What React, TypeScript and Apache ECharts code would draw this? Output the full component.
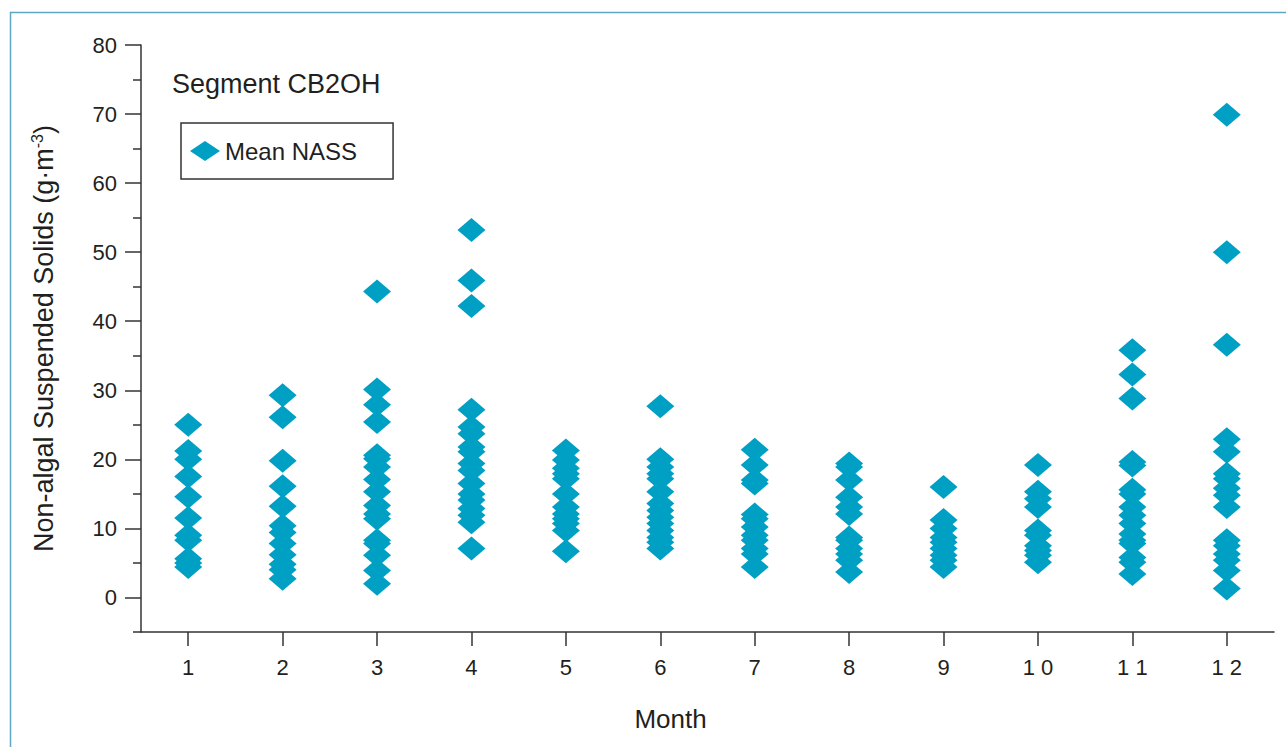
import React, { useEffect, useRef } from "react";
import * as echarts from "echarts";

const monthLabels = ["1", "2", "3", "4", "5", "6", "7", "8", "9", "1 0", "1 1", "1 2"];

const m1 = [25.0, 21.2, 20.0, 17.5, 14.6, 11.5, 9.0, 8.3, 5.6, 5.0, 4.4];
const m2 = [29.3, 26.1, 19.8, 16.1, 13.2, 10.4, 9.4, 7.8, 6.2, 4.8, 4.0, 2.7];
const m3 = [44.3, 30.1, 27.9, 25.4, 20.6, 20.1, 18.9, 17.1, 15.3, 13.3, 12.1, 11.4, 8.3, 7.8, 6.1, 3.9, 2.0];
const m4 = [53.2, 45.9, 42.2, 27.2, 24.7, 23.7, 21.8, 21.1, 19.4, 18.4, 16.5, 15.0, 14.1, 12.9, 11.9, 10.9, 7.1];
const m5 = [21.3, 19.9, 18.7, 17.9, 17.2, 15.0, 13.1, 12.1, 11.4, 10.7, 9.7, 6.7];
const m6 = [27.7, 20.0, 18.9, 17.9, 17.2, 15.3, 13.6, 12.6, 11.6, 10.7, 9.7, 8.7, 8.0, 7.1];
const m7 = [21.4, 19.2, 17.0, 16.5, 12.0, 11.4, 10.2, 9.0, 8.3, 7.1, 6.3, 4.4];
const m8 = [19.4, 18.9, 17.0, 14.5, 13.1, 12.1, 8.7, 8.3, 7.1, 6.3, 5.4, 3.7];
const m9 = [16.0, 11.2, 10.0, 8.7, 8.0, 7.1, 6.1, 5.4, 4.4];
const m10 = [19.2, 15.3, 14.3, 13.1, 9.7, 9.0, 7.5, 6.8, 6.1, 5.1];
const m11 = [35.8, 32.3, 28.8, 19.6, 19.1, 15.6, 15.0, 13.1, 11.9, 10.7, 9.2, 8.3, 7.8, 5.8, 5.1, 3.4];
const m12 = [69.9, 50.0, 36.6, 22.9, 21.1, 17.9, 17.2, 15.8, 14.8, 13.1, 8.3, 7.5, 6.3, 5.4, 3.9, 1.3];

const monthValues = [m1, m2, m3, m4, m5, m6, m7, m8, m9, m10, m11, m12];

const majorTicks = [0, 10, 20, 30, 40, 50, 60, 70, 80];
const minorTicks = [-5, 5, 15, 25, 35, 45, 55, 65, 75];

const seriesName = "Mean NASS";
const titleText = "Segment CB2OH";
const xName = "Month";

const FONT = "'Liberation Sans', Arial, Helvetica, sans-serif";
const INK = "#231f20";
const MARK = "#00a0c4";

export default function App() {
  const ref = useRef<HTMLDivElement>(null);

  useEffect(() => {
    if (!ref.current) return;
    const chart = echarts.init(ref.current, null, { renderer: "svg" });

    const data: [number, number][] = [];
    monthValues.forEach((vals, i) => vals.forEach((v) => data.push([i, v])));

    chart.setOption({
      animation: false,
      backgroundColor: "#ffffff",
      textStyle: { fontFamily: FONT },
      title: {
        text: titleText,
        left: 167,
        top: 65,
        textStyle: { fontSize: 27, fontWeight: "normal", color: INK, fontFamily: FONT },
      },
      legend: {
        left: 181,
        top: 123,
        orient: "vertical",
        data: [{ name: seriesName, icon: "diamond" }],
        itemWidth: 30,
        itemHeight: 20,
        padding: [16, 36, 16, 9],
        borderColor: "#333",
        borderWidth: 1.5,
        textStyle: { fontSize: 24, color: INK, fontFamily: FONT },
      },
      graphic: [
        {
          type: "rect",
          left: 8,
          top: 10,
          shape: { width: 1300, height: 760 },
          style: { fill: "none", stroke: "#5ea6c6", lineWidth: 1.5 },
          silent: true,
        },
      ],
      grid: { left: 141, right: 12, top: 45, bottom: 115, outerBoundsMode: "none" },
      xAxis: {
        type: "category",
        data: monthLabels,
        boundaryGap: true,
        name: xName,
        nameLocation: "middle",
        nameGap: 74,
        nameTextStyle: { fontSize: 26, color: INK, fontFamily: FONT, padding: [0, 74, 0, 0] },
        axisLine: { show: true, onZero: false, lineStyle: { color: "#333", width: 1.5 } },
        axisTick: { show: true, alignWithLabel: true, interval: 0, length: 14, lineStyle: { color: "#333", width: 1.5 } },
        axisLabel: { fontSize: 22, color: INK, margin: 24, fontFamily: FONT, interval: 0 },
        splitLine: { show: false },
      },
      yAxis: [
        {
          type: "value",
          min: -5,
          max: 80,
          interval: 5,
          position: "left",
          name: "{a|Non-algal Suspended Solids (g·m}{b|-3}{a|)}",
          nameLocation: "middle",
          nameRotate: 90,
          nameGap: 82,
          nameTextStyle: {
            fontSize: 27,
            color: INK,
            fontFamily: FONT,
            rich: {
              a: { fontSize: 27, color: INK, fontFamily: FONT, lineHeight: 30 },
              b: { fontSize: 16, color: INK, fontFamily: FONT, verticalAlign: "top", lineHeight: 30 },
            },
          },
          axisLine: { show: true, onZero: false, lineStyle: { color: "#333", width: 1.5 } },
          axisTick: { show: true, length: 16, customValues: majorTicks, lineStyle: { color: "#333", width: 1.5 } },
          axisLabel: { customValues: majorTicks, fontSize: 22, color: INK, margin: 24, fontFamily: FONT },
          splitLine: { show: false },
        },
        {
          type: "value",
          min: -5,
          max: 80,
          interval: 5,
          position: "left",
          offset: 0,
          axisLine: { show: false },
          axisTick: { show: true, length: 8, customValues: minorTicks, lineStyle: { color: "#333", width: 1.5 } },
          axisLabel: { show: false },
          splitLine: { show: false },
        },
      ],
      series: [
        {
          name: seriesName,
          type: "scatter",
          symbol: "diamond",
          symbolSize: [28, 24],
          itemStyle: { color: MARK, opacity: 1 },
          data,
        },
      ],
    });

    return () => chart.dispose();
  }, []);

  return (
    <div
      ref={ref}
      style={{ position: "fixed", left: 0, top: 0, width: 1286, height: 747, background: "#fff" }}
    />
  );
}
